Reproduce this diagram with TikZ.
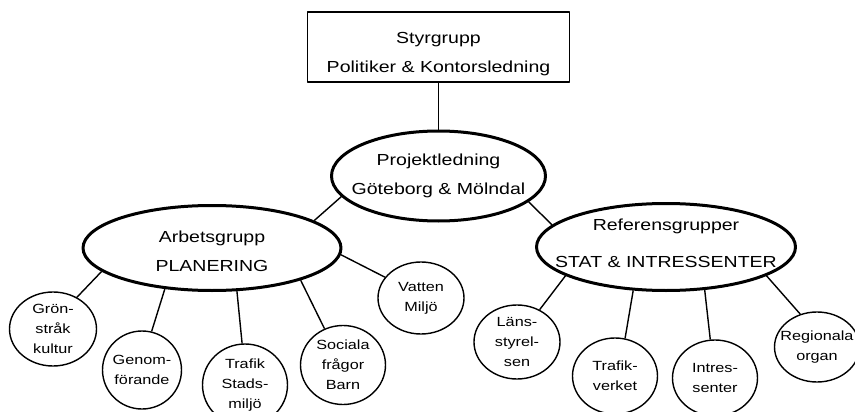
\documentclass[tikz,border=0pt]{standalone}
\usepackage{fontspec}
\setmainfont{Liberation Sans}[FakeStretch=1.22]
\usetikzlibrary{shapes.geometric}

\tikzset{
  bigell/.style={ellipse, draw, line width=3pt, inner sep=0pt},
  smallell/.style={ellipse, draw, line width=1.4pt, inner sep=0pt,
    minimum width=85pt, minimum height=76pt},
  boxnode/.style={rectangle, draw, line width=1.2pt, inner sep=0pt},
  bigtext/.style={align=center, font=\fontsize{16}{29}\selectfont},
  smalltext/.style={align=center, font=\fontsize{13.3}{20}\selectfont},
  link/.style={line width=1.4pt}
}

\begin{document}
\begin{tikzpicture}[x=1pt, y=-1pt, line join=round]
  \useasboundingbox (0,0) rectangle (855,412);
  % top levels
  \node[boxnode, minimum width=262pt, minimum height=70pt,
    label={[bigtext, yshift=-7pt]center:Styrgrupp\\Politiker \& Kontorsledning}] (styr) at (438.5,47) {};
  \node[bigell, minimum width=214pt, minimum height=90pt,
    label={[bigtext]center:Projektledning\\Göteborg \& Mölndal}] (proj) at (438.5,176) {};
  \node[bigell, minimum width=258pt, minimum height=85pt,
    label={[bigtext, yshift=-3pt]center:Arbetsgrupp\\PLANERING}] (arb) at (212,248) {};
  \node[bigell, minimum width=259pt, minimum height=87pt,
    label={[bigtext, yshift=4pt]center:Referensgrupper\\[8pt]STAT \& INTRESSENTER}] (ref) at (666,247) {};
  % arbetsgrupp
  \node[smallell, minimum width=87pt, minimum height=74pt,
    label={[smalltext]center:Grön-\\stråk\\kultur}] (gron) at (53,329) {};
  \node[smallell, minimum width=79pt, minimum height=78pt,
    label={[smalltext]center:Genom-\\förande}] (genom) at (142,370) {};
  \node[smallell, minimum height=82pt,
    label={[smalltext]center:Trafik\\Stads-\\miljö}] (trafs) at (245,385) {};
  \node[smallell, minimum height=79pt,
    label={[smalltext]center:Sociala\\frågor\\Barn}] (soc) at (343,365) {};
  \node[smallell, minimum width=86pt, minimum height=72pt,
    label={[smalltext]center:Vatten\\Miljö}] (vatten) at (421,298) {};
  % referensgrupper
  \node[smallell, minimum width=86pt, minimum height=74pt,
    label={[smalltext]center:Läns-\\styrel-\\sen}] (lans) at (517,342) {};
  \node[smallell, label={[smalltext]center:Trafik-\\verket}] (trafv) at (615,376) {};
  \node[smallell, label={[smalltext]center:Intres-\\senter}] (intr) at (715,378) {};
  \node[smallell, minimum height=70pt,
    label={[smalltext]center:Regionala\\organ}] (reg) at (817,347) {};
  % connectors
  \draw[link] (styr) -- (proj);
  \draw[link] (proj.192) -- (arb.15);
  \draw[link] (proj.344) -- (ref.169);
  \draw[link] (arb.192) -- (gron.53);
  \draw[link] (arb.221) -- (genom.76);
  \draw[link] (arb.300) -- (trafs.94);
  \draw[link] (arb.340) -- (soc.117);
  \draw[link] (arb.357) -- (vatten.150);
  \draw[link] (ref.196) -- (lans.55);
  \draw[link] (ref.233) -- (trafv.75);
  \draw[link] (ref.312) -- (intr.97);
  \draw[link] (ref.344) -- (reg.117);
\end{tikzpicture}
\end{document}
